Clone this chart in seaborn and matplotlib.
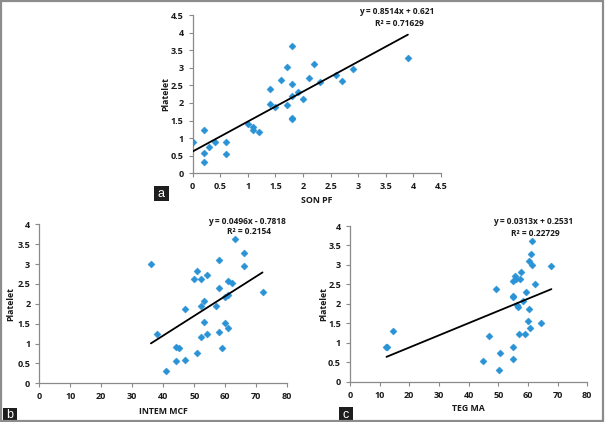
import matplotlib
matplotlib.use("Agg")
import matplotlib.pyplot as plt
import seaborn as sns
import numpy as np
import pandas as pd
from matplotlib.patches import Rectangle

# ---------------- data ----------------
son_pf = [0.0, 0.2, 0.2, 0.2, 0.3, 0.4, 0.6, 0.6, 1.0, 1.1, 1.1, 1.2, 1.4, 1.4, 1.5, 1.6,
          1.7, 1.7, 1.8, 1.8, 1.8, 1.8, 1.8, 1.9, 2.0, 2.1, 2.2, 2.3, 2.6, 2.7, 2.9, 3.9]
plt_a = [0.90, 1.23, 0.59, 0.31, 0.75, 0.90, 0.90, 0.56, 1.39, 1.31, 1.23, 1.16, 2.40, 1.96, 1.89, 2.64,
         3.02, 1.95, 3.63, 2.54, 2.20, 1.58, 1.53, 2.30, 2.11, 2.72, 3.12, 2.59, 2.80, 2.62, 2.96, 3.29]

intem_mcf = [36, 38, 41, 44, 45, 44, 47, 47, 50, 51, 51, 52, 52, 52, 53, 53, 54, 54, 57, 58, 58,
             58, 59, 60, 60, 61, 61, 61, 62, 63, 66, 66, 72]
plt_b = [3.00, 1.23, 0.30, 0.92, 0.90, 0.55, 0.59, 1.86, 2.62, 2.83, 0.75, 2.62, 1.94, 1.17, 2.08,
         1.55, 2.72, 1.23, 1.94, 3.11, 2.40, 1.30, 0.89, 1.51, 2.18, 2.58, 2.21, 1.39, 2.52, 3.63,
         3.27, 2.96, 2.29]

teg_ma = [12.3, 12.6, 14.6, 45.0, 47.0, 49.2, 50.2, 50.7, 54.8, 55.0, 54.8, 55.0, 55.0, 55.6, 56.0,
          56.4, 56.7, 57.3, 57.0, 57.8, 58.4, 59.0, 59.2, 59.9, 60.4, 60.4, 60.7, 61.0, 61.5, 61.5,
          62.5, 64.3, 67.9]
plt_c = [0.90, 0.88, 1.29, 0.54, 1.17, 2.39, 0.30, 0.75, 2.20, 2.17, 0.58, 0.88, 2.58, 2.72, 2.63,
         1.97, 1.92, 2.63, 1.22, 2.83, 2.08, 1.22, 2.30, 1.56, 3.10, 1.87, 1.39, 3.27, 3.61, 3.01,
         2.51, 1.51, 2.97]

slopes = [0.8514, 0.0496, 0.0313]
intercepts = [0.621, -0.7818, 0.2531]
equations = ["y = 0.8514x + 0.621", "y = 0.0496x - 0.7818", "y = 0.0313x + 0.2531"]
r2_texts = ["R² = 0.71629", "R² = 0.2154", "R² = 0.22729"]
x_labels = ["SON PF", "INTEM MCF", "TEG MA"]
y_label = "Platelet"
panel_letters = ["a", "b", "c"]
xticks_a = [0, 0.5, 1, 1.5, 2, 2.5, 3, 3.5, 4, 4.5]
yticks_a = [0, 0.5, 1, 1.5, 2, 2.5, 3, 3.5, 4, 4.5]
xticks_bc = [0, 10, 20, 30, 40, 50, 60, 70, 80]
yticks_bc = [0, 0.5, 1, 1.5, 2, 2.5, 3, 3.5, 4]

# ---------------- style ----------------
sns.set_theme(style="white")
plt.rcParams['font.family'] = ['Open Sans', 'DejaVu Sans']

W, H = 605, 422
fig = plt.figure(figsize=(W / 100, H / 100), dpi=100)

def px_axes(x0, y0, x1, y1):
    return fig.add_axes([x0 / W, 1 - y1 / H, (x1 - x0) / W, (y1 - y0) / H])

ax_a = px_axes(192.7, 15, 441, 173.3)
ax_b = px_axes(39.3, 224.3, 287.3, 383.3)
ax_c = px_axes(350, 226, 587.3, 381.7)

blue = "#2a93d5"
spine_col = "#8a8a8a"

datasets = [
    (ax_a, son_pf, plt_a, xticks_a, yticks_a),
    (ax_b, intem_mcf, plt_b, xticks_bc, yticks_bc),
    (ax_c, teg_ma, plt_c, xticks_bc, yticks_bc),
]
ylabel_x = [-0.109, -0.114, -0.11]
xlabel_y = [-0.173, -0.18, -0.175]

for i, (ax, xs, ys, xt, yt) in enumerate(datasets):
    df = pd.DataFrame({"x": xs, "y": ys})
    sns.scatterplot(data=df, x="x", y="y", ax=ax, marker="D", s=13, color=blue,
                    edgecolor=blue, linewidth=0.3, zorder=3)
    xr = np.array([min(xs), max(xs)])
    line_df = pd.DataFrame({"x": xr, "y": slopes[i] * xr + intercepts[i]})
    sns.lineplot(data=line_df, x="x", y="y", ax=ax, color="black", linewidth=1.3, zorder=4)
    ax.set_xlim(xt[0], xt[-1])
    ax.set_ylim(yt[0], yt[-1])
    ax.set_xticks(xt)
    ax.set_yticks(yt)
    ax.set_xticklabels([f"{v:g}" for v in xt])
    ax.set_yticklabels([f"{v:g}" for v in yt])
    for s in ["top", "right"]:
        ax.spines[s].set_visible(False)
    for s in ["left", "bottom"]:
        ax.spines[s].set_color(spine_col)
        ax.spines[s].set_linewidth(0.9)
    ax.tick_params(axis="both", which="major", direction="out", length=3, width=0.8,
                   color=spine_col, labelsize=6.5, labelcolor="#1a1a1a", pad=3.5,
                   left=True, bottom=True)
    for lab in ax.get_xticklabels() + ax.get_yticklabels():
        lab.set_fontweight("bold")
    ax.set_xlabel(x_labels[i], fontsize=6.3, fontweight="bold", color="#1a1a1a")
    ax.set_ylabel(y_label, fontsize=6.3, fontweight="bold", color="#1a1a1a")
    ax.yaxis.set_label_coords(ylabel_x[i], 0.5)
    ax.xaxis.set_label_coords(0.5, xlabel_y[i])
    ax.xaxis.label.set_va("center")
    ax.yaxis.label.set_va("center")
    ax.set_facecolor("white")

# equation texts (figure pixel positions)
eq_pos = [(397, 12), (247, 221), (533, 222)]
for i, (px, py) in enumerate(eq_pos):
    fig.text(px / W, 1 - py / H, equations[i], ha="center", va="center", fontsize=6,
             fontweight="bold", color="#1a1a1a")
    fig.text((px + 2) / W, 1 - (py + 11) / H, r2_texts[i], ha="center", va="center",
             fontsize=6, fontweight="bold", color="#1a1a1a")

# panel letter boxes
letter_boxes = [(154, 186, 169, 201), (3, 408, 17, 421), (339, 407, 353, 421)]
for i, (x0, y0, x1, y1) in enumerate(letter_boxes):
    fig.patches.append(Rectangle((x0 / W, 1 - y1 / H), (x1 - x0) / W, (y1 - y0) / H,
                                 transform=fig.transFigure, facecolor="#1e1e1e",
                                 edgecolor="none", zorder=5))
    fig.text((x0 + x1) / 2 / W, 1 - ((y0 + y1) / 2 + 0.5) / H, panel_letters[i],
             ha="center", va="center", fontsize=9, color="white", zorder=6,
             family=["Liberation Sans", "DejaVu Sans"])

# outer border
fig.patches.append(Rectangle((0.0015, 0.002), 0.995, 0.995, transform=fig.transFigure,
                             facecolor="none", edgecolor="#8c8c8c", linewidth=1.6, zorder=10))

fig.savefig("out.png", dpi=100)
